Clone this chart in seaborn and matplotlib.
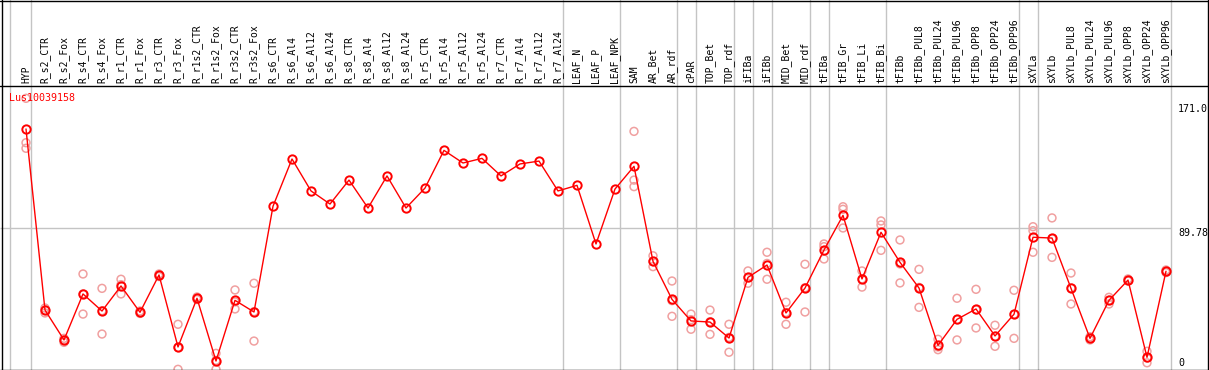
import numpy as np
import pandas as pd
import matplotlib.pyplot as plt
import seaborn as sns
from matplotlib.lines import Line2D

gene = "Lus10039158"

samples = ["HYP", "R_s2_CTR", "R_s2_Fox", "R_s4_CTR", "R_s4_Fox", "R_r1_CTR", "R_r1_Fox",
           "R_r3_CTR", "R_r3_Fox", "R_r1s2_CTR", "R_r1s2_Fox", "R_r3s2_CTR", "R_r3s2_Fox",
           "R_s6_CTR", "R_s6_Al4", "R_s6_Al12", "R_s6_Al24", "R_s8_CTR", "R_s8_Al4",
           "R_s8_Al12", "R_s8_Al24", "R_r5_CTR", "R_r5_Al4", "R_r5_Al12", "R_r5_Al24",
           "R_r7_CTR", "R_r7_Al4", "R_r7_Al12", "R_r7_Al24", "LEAF_N", "LEAF_P", "LEAF_NPK",
           "SAM", "AR_Bet", "AR_rdf", "cPAR", "TOP_Bet", "TOP_rdf", "iFIBa", "iFIBb",
           "MID_Bet", "MID_rdf", "tFIBa", "tFIB_Gr", "tFIB_Li", "tFIB_Bi", "tFIBb",
           "tFIBb_PUL8", "tFIBb_PUL24", "tFIBb_PUL96", "tFIBb_OPP8", "tFIBb_OPP24",
           "tFIBb_OPP96", "sXYLa", "sXYLb", "sXYLb_PUL8", "sXYLb_PUL24", "sXYLb_PUL96",
           "sXYLb_OPP8", "sXYLb_OPP24", "sXYLb_OPP96"]

# mean expression per sample
means = [151.8, 38.4, 19.7, 48.5, 37.8, 53.5, 37.0, 60.4, 15.3, 45.8, 6.5, 44.5, 37.2,
         103.4, 133.0, 113.0, 104.8, 119.8, 102.3, 122.4, 102.3, 114.8, 138.4, 130.5, 133.4,
         122.4, 129.9, 131.7, 113.0, 116.5, 79.8, 114.2,
         128.4, 68.9, 45.1, 31.6, 30.9, 20.9, 58.9, 66.6, 36.6, 52.2, 76.0, 97.7, 57.9, 87.1,
         68.3, 52.2, 16.3, 32.6, 39.1, 22.2, 35.8, 84.0, 83.5, 52.0, 20.7, 44.5, 57.2, 8.8, 62.7]

nan = np.nan
# biological replicates (nan = not shown)
rep1 = [171.0, 39.7, 20.7, 61.0, 52.0, 57.7, 37.8, 61.0, 29.5, 46.6, 11.3, 51.0, 55.2,
        nan, nan, nan, nan, nan, nan, nan, nan, nan, nan, nan, nan, nan, nan, nan, nan, nan, nan, nan,
        150.3, 72.4, 56.6, 35.9, 38.4, 29.5, 62.9, 74.6, 43.3, 67.1, 79.8, 103.1, 62.9, 94.2,
        82.3, 63.9, 20.1, 45.8, 51.4, 28.9, 50.8, 90.6, 96.1, 61.6, 21.7, 46.4, 57.9, 12.6, 63.5]
rep2 = [143.2, 38.4, 19.7, 48.5, 38.0, 54.3, 37.0, 60.4, 15.0, 45.8, 6.9, 43.5, 37.4,
        nan, nan, nan, nan, nan, nan, nan, nan, nan, nan, nan, nan, nan, nan, nan, nan, nan, nan, nan,
        119.8, 68.8, 44.3, 32.4, 31.1, 21.3, 58.7, 67.6, 36.9, 52.4, 78.1, 101.5, 57.9, 91.7,
        67.3, 52.6, 15.3, 32.4, 38.6, 21.9, 35.8, 88.1, 83.1, 52.2, 20.7, 44.5, 57.2, 8.4, 62.7]
rep3 = [139.7, 36.6, 18.2, 35.9, 23.4, 48.5, 36.3, 59.4, 1.3, 45.0, 1.3, 39.1, 19.0,
        nan, nan, nan, nan, nan, nan, nan, nan, nan, nan, nan, nan, nan, nan, nan, nan, nan, nan, nan,
        115.7, 65.6, 34.5, 26.4, 23.2, 12.0, 55.2, 57.7, 29.5, 37.2, 70.4, 89.8, 52.8, 75.8,
        55.4, 40.1, 13.6, 19.7, 27.2, 15.7, 20.7, 74.6, 71.4, 42.2, 19.7, 42.2, 56.6, 5.4, 61.9]

# last sample of each group (vertical separators)
group_ends = [-1, 0, 28, 31, 34, 35, 37, 38, 39, 41, 42, 45, 52, 53, 60]
scale_labels = ["171.0", "89.78", "0"]
scale_values = [171.0, 89.78, 0.0]

pos = np.arange(len(samples))
df_mean = pd.DataFrame({"pos": pos, "value": means})
df_rep = pd.DataFrame({"pos": np.tile(pos, 3), "value": rep1 + rep2 + rep3}).dropna()

sns.set_style("white")
plt.rcParams["font.family"] = ["DejaVu Sans Mono", "DejaVu Sans"]

W, H = 1209, 370
fig = plt.figure(figsize=(W / 100, H / 100), dpi=100)
ax = fig.add_axes([0, 0, 1, 285 / H])
hax = fig.add_axes([0, 285 / H, 1, 85 / H])

xlim = (-26 / 19, (W - 26) / 19)
for a in (ax, hax):
    a.set_xlim(xlim)
    a.set_axis_off()
ax.set_ylim((371.4 - 370) / 1.597, (371.4 - 85) / 1.597)
hax.set_ylim(0, 1)

gray = "#c4c4c4"
for k in group_ends:
    xs = k + 0.24 if k >= 0 else k + 0.16
    ax.axvline(xs, color=gray, lw=1, zorder=0)
    hax.axvline(xs, color=gray, lw=1, zorder=0)
ax.hlines(scale_values[1], xlim[0], 60.24, color=gray, lw=1, zorder=0)

sns.scatterplot(data=df_rep, x="pos", y="value", ax=ax, marker="o", s=32,
                facecolor="none", edgecolor="#f0a0a0", linewidth=1.1, zorder=2)
sns.lineplot(data=df_mean, x="pos", y="value", ax=ax, color="red", lw=1,
             marker="o", markersize=6, markerfacecolor="none", markeredgecolor="red",
             markeredgewidth=1.4, zorder=3)
ax.set_axis_off()

for i, name in enumerate(samples):
    hax.text(i, 0.02, name, rotation=90, ha="center", va="bottom", fontsize=7, color="black")

ax.text(-0.88, 174.3, gene, color="red", fontsize=7.2, ha="left", va="top")
for lab, yv in zip(scale_labels, [167.6, 89.5, 8.6]):
    ax.text(60.63, yv, lab, fontsize=7.2, ha="left", va="top", color="black")

# frame lines
for (x0, y0, x1, y1) in [(0, 1 - 0.5 / H, 1, 1 - 0.5 / H),
                         (0, 1 - 85.5 / H, 1, 1 - 85.5 / H),
                         (0, 0.5 / H, 1, 0.5 / H),
                         (1.5 / W, 0, 1.5 / W, 1),
                         (1207.5 / W, 0, 1207.5 / W, 1)]:
    fig.add_artist(Line2D([x0, x1], [y0, y1], color="black", lw=1))

plt.savefig("out.png", dpi=100)
plt.close("all")
